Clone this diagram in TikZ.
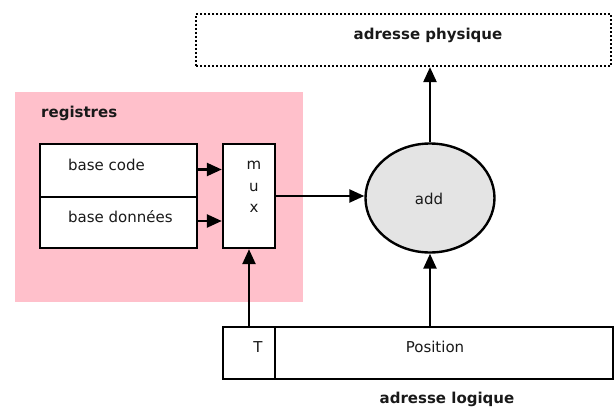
\documentclass[tikz,border=0pt]{standalone}
\usepackage{fontspec}
\setsansfont{DejaVu Sans}
\usepackage{tikz}
\usetikzlibrary{arrows.meta}
\usetikzlibrary{shapes.geometric}
\definecolor{regpink}{RGB}{255,192,203}
\definecolor{addgray}{RGB}{228,228,228}

\begin{document}
\begin{tikzpicture}[x=1pt, y=-1pt, font=\sffamily\fontsize{15}{17}\selectfont,
	box/.style={draw, line width=2.4pt, fill=white, inner sep=0pt},
	arr/.style={line width=2.4pt, -{Triangle[length=15pt,width=13pt]}},
	txt/.style={inner sep=0pt, text=black!90},
	bold/.style={font=\sffamily\bfseries\fontsize{15}{17}\selectfont}]
	\useasboundingbox (0,0) rectangle (614,407);
	% zone des registres
	\fill[regpink] (15,92) rectangle (303,302);
	\node[txt, bold, anchor=west] (registres) at (41,113) {registres};
	\node[box, minimum width=157pt, minimum height=53pt] (basecode) at (118.5,170.5) {};
	\node[box, minimum width=157pt, minimum height=51pt] (basedonnees) at (118.5,222.5) {};
	\node[txt, anchor=west] (tcode) at (68,165) {base code};
	\node[txt, anchor=west] (tdonnees) at (68,217) {base données};
	\node[box, minimum width=52pt, minimum height=104pt] (mux) at (249,196) {};
	\node[txt, align=center, font=\sffamily\fontsize{15}{21.5}\selectfont] (tmux) at (254,187) {m\\u\\x};
	% additionneur et adresse physique
	\node[box, ellipse, fill=addgray, minimum width=129pt, minimum height=109pt] (add) at (430,198) {};
	\node[txt] (tadd) at (429,199) {add};
	\node[draw, line width=2.2pt, dash pattern=on 2pt off 2pt, minimum width=415pt, minimum height=52pt] (phys) at (403.5,40) {};
	\node[txt, bold] (tphys) at (428,35) {adresse physique};
	% adresse logique
	\node[box, minimum width=52pt, minimum height=52pt] (T) at (249,353) {};
	\node[box, minimum width=338pt, minimum height=52pt] (pos) at (444,353) {};
	\node[txt] (tT) at (258,347) {T};
	\node[txt] (tpos) at (435,347) {Position};
	\node[txt, bold] (logique) at (447,399) {adresse logique};
	% connexions
	\draw[arr] ([yshift=1pt]basecode.east) -- ([yshift=1pt]basecode.east -| mux.west);
	\draw[arr] ([yshift=1.5pt]basedonnees.east) -- ([yshift=1.5pt]basedonnees.east -| mux.west);
	\draw[arr] (mux.east) -- (mux.east -| add.west);
	\draw[arr] (add.north) -- (add.north |- phys.south);
	\draw[arr] (T.north) -- (mux.south);
	\draw[arr] (add.south |- pos.north) -- (add.south);
\end{tikzpicture}
\end{document}
